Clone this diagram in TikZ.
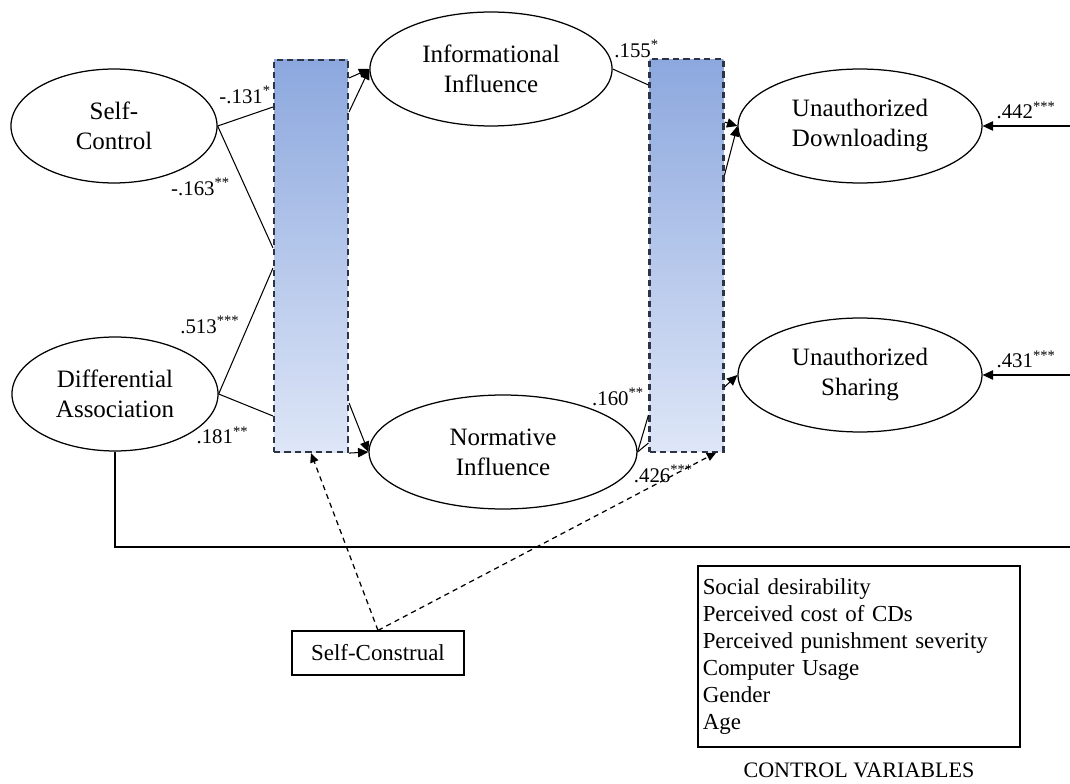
\documentclass[tikz,border=0pt]{standalone}
\usepackage{fontspec}
\setmainfont{Liberation Serif}
\usetikzlibrary{positioning,arrows.meta,shapes.geometric}

\definecolor{boxtop}{RGB}{140,168,222}
\definecolor{boxbot}{RGB}{222,230,247}
\definecolor{boxline}{RGB}{45,52,70}

\begin{document}
\begin{tikzpicture}[
      x=0.48pt, y=-0.48pt,
      lv/.style = {ellipse, draw, line width=0.6pt, inner sep=0pt, align=center, minimum height=54.7pt, font=\fontsize{12}{14.4}\selectfont},
      mb/.style = {rectangle, draw=boxline, dash pattern=on 3pt off 2pt, line width=1pt, top color=boxtop, bottom color=boxbot, minimum width=35.5pt, minimum height=188.2pt},
      cf/.style = {font=\fontsize{10}{12}\selectfont, inner sep=1pt},
      pa/.style = {line width=0.5pt, -{Triangle[length=5pt, width=4.5pt]}},
      pl/.style = {line width=0.5pt},
      dl/.style = {line width=0.6pt, dash pattern=on 2.5pt off 2pt, -{Triangle[length=4.5pt, width=4pt]}},
      bx/.style = {rectangle, draw, line width=0.6pt, font=\fontsize{11}{13}\selectfont},
    ]
    \useasboundingbox (0,0) rectangle (1070,784);

    \node[lv, minimum width=98.9pt] (sc) at (114,126) {Self-\\Control};
    \node[lv, minimum width=98.9pt] (da) at (115,394) {Differential\\Association};
    \node[lv, minimum width=116.2pt] (inf) at (491,69) {Informational\\Influence};
    \node[lv, minimum width=128.6pt] (nor) at (503,452) {Normative\\Influence};
    \node[lv, minimum width=117.1pt] (dwn) at (860,126) {Unauthorized\\Downloading};
    \node[lv, minimum width=117.1pt] (shr) at (860,375) {Unauthorized\\Sharing};

    \node[mb] (m1) at (311,256) {};
    \node[mb] (m2) at (686.5,255.5) {};

    \node[bx, minimum width=82.6pt, minimum height=21.1pt] (scn) at (378,653) {Self-Construal};
    \node[bx, text width=150pt, inner xsep=2.3pt, minimum height=86.9pt, align=left] (cv) at (859,656.5)
      {Social desirability\\Perceived cost of CDs\\Perceived punishment severity\\Computer Usage\\Gender\\Age};
    \node[font=\fontsize{10.6}{12}\selectfont, below=4pt of cv] (cvl) {CONTROL VARIABLES};

    \coordinate (in1) at (1070,126);
    \coordinate (in2) at (1070,375);
    \coordinate (hl) at (1070,547);

    % predictors into the first moderator block
    \draw[pl] (sc.east) -- node[cf, above=5pt] {-.131\textsuperscript{*}} (m1.west |- 0,107);
    \draw[pl] (sc.east) -- node[cf, left=6pt] {-.163\textsuperscript{**}} (m1.west |- 0,248);
    \draw[pl] (da.east) -- node[cf, pos=0.55, left=3pt] {.513\textsuperscript{***}} (m1.west |- 0,268);
    \draw[pl] (da.east) -- node[cf, pos=0.6, anchor=north east, yshift=-8pt] {.181\textsuperscript{**}} (m1.west |- 0,416);

    \draw[pa] (m1.east |- 0,78) -- (inf.west);
    \draw[pa] (m1.east |- 0,112) -- (inf.west);
    \draw[pa] (m1.east |- 0,403) -- (nor.west);
    \draw[pa] (m1.south east) -- (nor.west);

    % mediators into the second block
    \draw[pl] (inf.east) -- node[cf, above=8pt, xshift=3pt] {.155\textsuperscript{*}} (m2.west |- 0,85);
    \draw[pl] (nor.east) -- node[cf, pos=0.85, above left=6pt and 0pt] {.160\textsuperscript{**}} (m2.west |- 0,415);
    \draw[pl] (nor.east) -- node[cf, pos=0, anchor=north west, xshift=-3pt, yshift=-5pt] {.426\textsuperscript{***}} (m2.west |- 0,443);

    \draw[pa] (m2.east |- 0,122) -- (dwn.west);
    \draw[pa] (m2.east |- 0,175) -- (dwn.west);
    \draw[pa] (m2.east |- 0,387) -- (shr.west);

    \draw[pa] (in1) -- node[cf, above=2pt] {.442\textsuperscript{***}} (dwn.east);
    \draw[pa] (in2) -- node[cf, above=2pt] {.431\textsuperscript{***}} (shr.east);

    \draw[pl] (da.south) |- (hl);

    % moderator
    \draw[dl] (scn.north) -- (m1.south);
    \draw[dl] (scn.north) -- ([xshift=-4pt]m2.south east);
  \end{tikzpicture}
\end{document}
